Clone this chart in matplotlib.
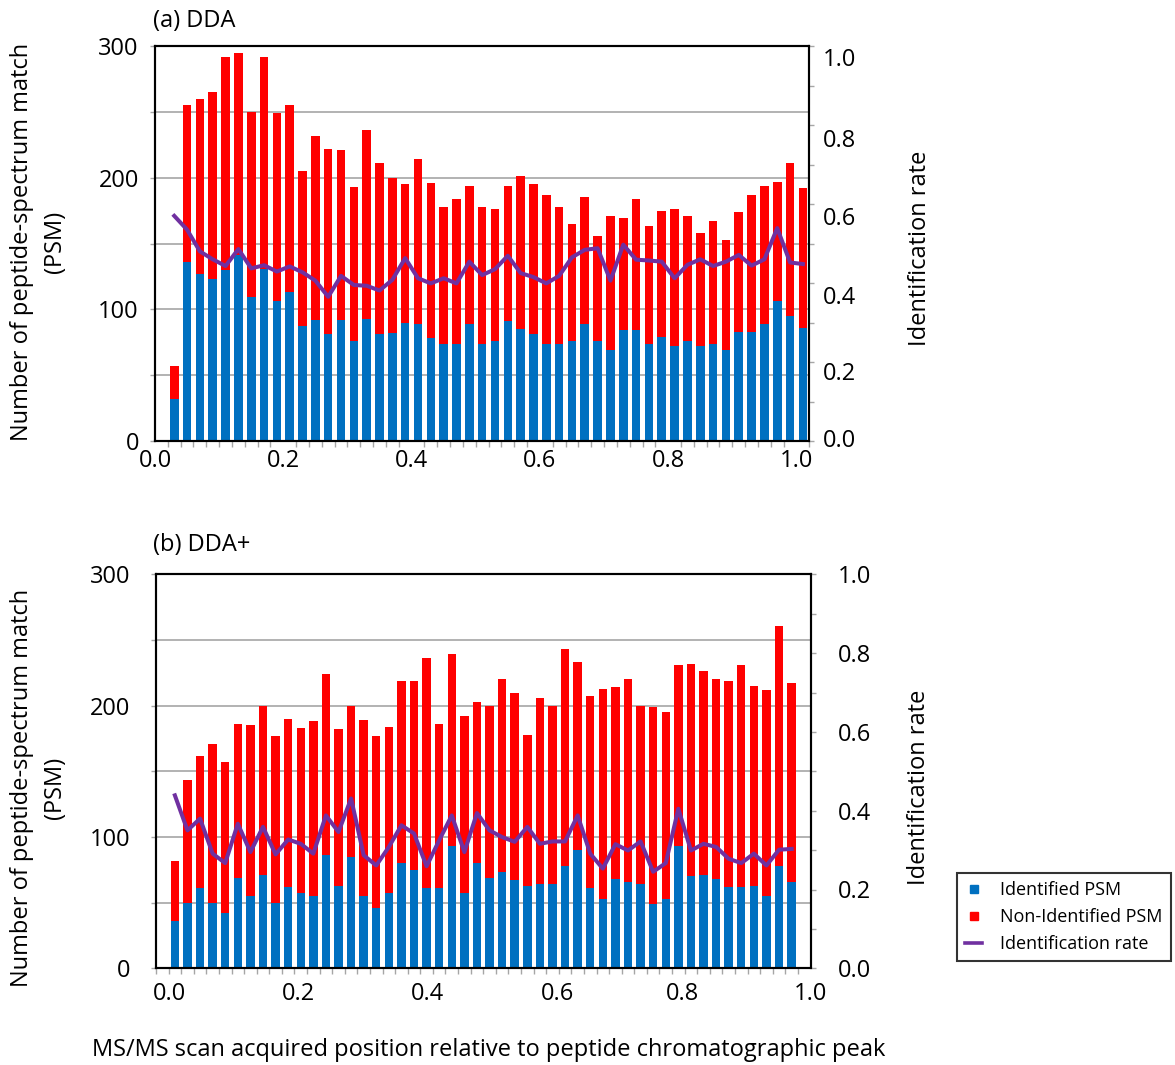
import numpy as np
import matplotlib.pyplot as plt
from matplotlib.lines import Line2D
from matplotlib.ticker import FixedLocator

plt.rcParams['font.family'] = ['Open Sans', 'DejaVu Sans']
plt.rcParams['font.size'] = 17

# ---- data (50 bins per panel) ----
# (a) DDA
identified_a = [32, 136, 127, 123, 130, 141, 109, 131, 106, 113,
                87, 92, 81, 92, 76, 93, 81, 82, 90, 89,
                78, 74, 74, 89, 74, 76, 91, 85, 81, 74,
                74, 76, 89, 76, 69, 84, 84, 74, 79, 72,
                76, 72, 74, 69, 83, 83, 89, 106, 95, 86]
non_identified_a = [25, 119, 133, 142, 162, 154, 141, 161, 143, 142,
                    118, 140, 141, 129, 117, 143, 130, 118, 105, 125,
                    118, 104, 110, 105, 104, 100, 103, 116, 114, 113,
                    104, 89, 96, 80, 102, 85, 100, 89, 96, 104,
                    95, 86, 93, 84, 91, 104, 105, 91, 116, 106]
rate_a = [0.57, 0.535, 0.48, 0.46, 0.443, 0.486, 0.437, 0.445, 0.429, 0.442,
          0.427, 0.406, 0.365, 0.418, 0.395, 0.393, 0.381, 0.408, 0.463, 0.412,
          0.399, 0.412, 0.399, 0.454, 0.42, 0.435, 0.469, 0.425, 0.415, 0.399,
          0.418, 0.465, 0.484, 0.488, 0.406, 0.497, 0.459, 0.457, 0.454, 0.412,
          0.446, 0.46, 0.443, 0.454, 0.471, 0.444, 0.46, 0.539, 0.452, 0.448]

# (b) DDA+
identified_b = [36, 50, 61, 50, 42, 69, 55, 71, 50, 62,
                57, 55, 86, 63, 85, 55, 46, 57, 80, 75,
                61, 61, 93, 57, 80, 69, 73, 67, 63, 64,
                64, 78, 90, 61, 53, 68, 66, 64, 49, 53,
                93, 70, 71, 68, 62, 62, 63, 55, 78, 66]
non_identified_b = [46, 93, 101, 121, 115, 117, 130, 129, 127, 128,
                    126, 133, 138, 119, 115, 134, 131, 127, 139, 144,
                    175, 125, 146, 135, 123, 131, 147, 143, 115, 142,
                    136, 165, 143, 146, 160, 146, 154, 136, 150, 142,
                    138, 162, 155, 152, 157, 169, 152, 157, 183, 151]
rate_b = [0.439, 0.35, 0.38, 0.291, 0.267, 0.367, 0.295, 0.359, 0.289, 0.327,
          0.316, 0.291, 0.388, 0.346, 0.431, 0.287, 0.261, 0.308, 0.363, 0.342,
          0.259, 0.325, 0.388, 0.295, 0.394, 0.35, 0.333, 0.321, 0.359, 0.316,
          0.322, 0.322, 0.388, 0.291, 0.253, 0.315, 0.299, 0.322, 0.245, 0.267,
          0.405, 0.299, 0.316, 0.308, 0.278, 0.267, 0.291, 0.261, 0.301, 0.303]

x_tick_labels = ['0.0', '0.2', '0.4', '0.6', '0.8', '1.0']
psm_ticks = [0, 100, 200, 300]
rate_tick_labels = ['0.0', '0.2', '0.4', '0.6', '0.8', '1.0']

BLUE = '#0070C0'
RED = '#FF0000'
PURPLE = '#7030A0'
GRID = '#A6A6A6'

fig = plt.figure(figsize=(11.75, 10.65), dpi=100)
W, H = 1175, 1065
ax_a = fig.add_axes([155 / W, 1 - 441 / H, 654.3 / W, 395 / H])
ax_b = fig.add_axes([156 / W, 1 - 968.3 / H, 654.5 / W, 394 / H])


def draw_panel(ax, ident, nonid, rate, xlim, label_pos, ylab_x, ylab_y,
               rlab_x, rlab_y, lpad, rpad, xpad):
    x = np.arange(len(ident))
    ax.bar(x, ident, width=0.67, color=BLUE, zorder=2)
    ax.bar(x, nonid, width=0.67, bottom=ident, color=RED, zorder=2)
    ax.set_xlim(*xlim)
    ax.set_ylim(0, 300)
    ax.set_yticks(psm_ticks)
    ax.set_yticks([50, 150, 250], minor=True)
    ax.grid(axis='y', which='both', color=GRID, lw=1.2)
    ax.set_axisbelow(True)
    ax.set_xticks(label_pos)
    ax.set_xticklabels(x_tick_labels)
    ax.xaxis.set_minor_locator(FixedLocator(np.arange(xlim[0], xlim[1] + 0.01, 1.0)))
    ax.tick_params(axis='x', which='major', length=0, pad=xpad)
    ax.tick_params(axis='x', which='minor', length=4.5, width=1, color=GRID)
    ax.tick_params(axis='y', which='both', length=3.6, width=1, color=GRID, pad=lpad)
    ax.set_ylabel('Number of peptide-spectrum match\n(PSM)', fontsize=17,
                  linespacing=1.5)
    ax.yaxis.set_label_coords(ylab_x, ylab_y)

    ax2 = ax.twinx()
    ax2.plot(x, rate, color=PURPLE, lw=2.9, solid_joinstyle='round')
    ax2.set_ylim(0, 1)
    ax2.set_yticks(np.arange(0, 1.01, 0.2))
    ax2.set_yticks(np.arange(0.1, 1.0, 0.2), minor=True)
    ax2.tick_params(axis='y', which='both', length=3.6, width=1, color=GRID, pad=rpad)
    ax2.set_ylabel('Identification rate', fontsize=17)
    ax2.yaxis.set_label_coords(rlab_x, rlab_y)
    for a in (ax, ax2):
        for s in a.spines.values():
            s.set_color('black')
            s.set_linewidth(1.5)
    return ax2


ax2_a = draw_panel(ax_a, identified_a, non_identified_a, rate_a, (-1.5, 49.5),
                   [-1.5, 8.5, 18.5, 28.5, 38.5, 48.5],
                   -0.134, 0.503, 1.151, 0.489, 8, 7, 6)
# right-hand labels of panel (a) sit a little below their ticks in the original
ax2_a.set_yticklabels([])
label_drop_a = [0, 9, 10.5, 11, 11.5, 10]
for v, lbl, dy in zip(np.arange(0, 1.01, 0.2), rate_tick_labels, label_drop_a):
    ax2_a.annotate(lbl, xy=(1, v), xycoords=('axes fraction', 'data'),
                   xytext=(10, -dy), textcoords='offset points',
                   ha='left', va='center')

ax2_b = draw_panel(ax_b, identified_b, non_identified_b, rate_b, (-1.5, 50.5),
                   [-0.4, 9.8, 20.1, 30.4, 40.3, 50.5],
                   -0.136, 0.459, 1.147, 0.46, 15, 16, 10)

fig.text(153 / W, 1 - 21 / H, '(a) DDA', fontsize=17, va='center', ha='left')
fig.text(153 / W, 1 - 545 / H, '(b) DDA+', fontsize=17, va='center', ha='left')
fig.text(489 / W, 1 - 1050 / H,
         'MS/MS scan acquired position relative to peptide chromatographic peak',
         fontsize=17, ha='center', va='center')

handles = [
    Line2D([], [], ls='none', marker='s', ms=6, color=BLUE),
    Line2D([], [], ls='none', marker='s', ms=6, color=RED),
    Line2D([], [], color=PURPLE, lw=2.6),
]
leg = fig.legend(handles, ['Identified PSM', 'Non-Identified PSM', 'Identification rate'],
                 loc='upper left', bbox_to_anchor=(957 / W, 1 - 873 / H),
                 fontsize=13, frameon=True, fancybox=False, handlelength=0.95,
                 handletextpad=1.0, borderpad=0.45, labelspacing=0.5,
                 borderaxespad=0)
leg.get_frame().set_edgecolor('black')
leg.get_frame().set_linewidth(1.5)

fig.savefig('out.png', dpi=100)
